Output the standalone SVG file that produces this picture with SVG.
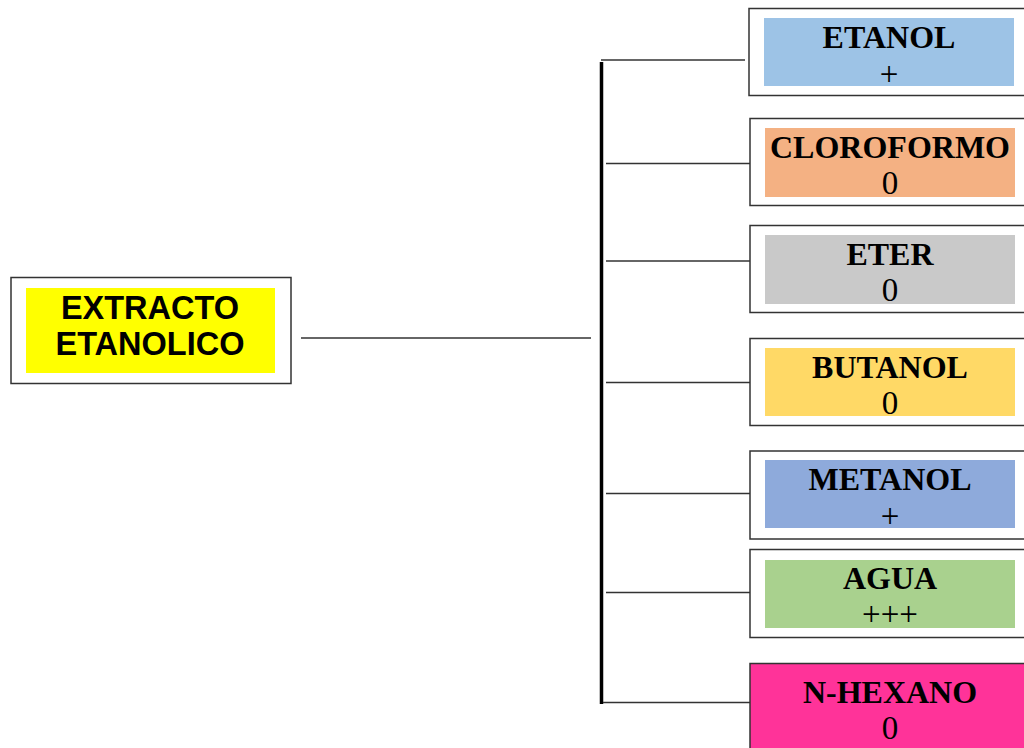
<svg xmlns="http://www.w3.org/2000/svg" width="1024" height="748" viewBox="0 0 1024 748">
<style>
.outer{fill:#fff;stroke:#333;stroke-width:1.5}
.lbl{font-family:"Liberation Serif","Times New Roman",serif;font-weight:bold;font-size:32px;text-anchor:middle;fill:#000}
.val{font-family:"Liberation Serif","Times New Roman",serif;font-size:33px;text-anchor:middle;fill:#000}
.main{font-family:"Liberation Sans",Arial,sans-serif;font-weight:bold;font-size:32.5px;text-anchor:middle;fill:#000}
.conn{stroke:#333;stroke-width:1.5;fill:none}
</style>
<rect width="1024" height="748" fill="#fff"/>
<g id="connectors">
<line class="conn" x1="301" y1="338" x2="591" y2="338"/>
<line x1="601.5" y1="62" x2="601.5" y2="704" stroke="#000" stroke-width="3.5"/>
<line class="conn" x1="601" y1="60" x2="745" y2="60"/>
<line class="conn" x1="606" y1="163.5" x2="750" y2="163.5"/>
<line class="conn" x1="606" y1="261" x2="750" y2="261"/>
<line class="conn" x1="606" y1="382.5" x2="750" y2="382.5"/>
<line class="conn" x1="606" y1="493.5" x2="750" y2="493.5"/>
<line class="conn" x1="606" y1="592.5" x2="750" y2="592.5"/>
<line class="conn" x1="603" y1="702.5" x2="750" y2="702.5"/>
</g>
<g id="extracto">
<rect class="outer" x="11" y="277.5" width="280" height="106"/>
<rect x="26" y="288" width="249" height="85" fill="#ffff00"/>
<text class="main" x="150" y="319">EXTRACTO</text>
<text class="main" x="150" y="355">ETANOLICO</text>
</g>
<g id="etanol">
<rect class="outer" x="749" y="8.5" width="290" height="87"/>
<rect x="764" y="18" width="250" height="68" fill="#9dc3e6"/>
<text class="lbl" x="889" y="48">ETANOL</text>
<text class="val" x="889" y="85">+</text>
</g>
<g id="cloroformo">
<rect class="outer" x="750" y="118.5" width="290" height="87"/>
<rect x="765" y="128" width="250" height="69" fill="#f4b183"/>
<text class="lbl" x="890" y="158">CLOROFORMO</text>
<text class="val" x="890" y="194">0</text>
</g>
<g id="eter">
<rect class="outer" x="750" y="225.5" width="290" height="87"/>
<rect x="765" y="235" width="250" height="69" fill="#c9c9c9"/>
<text class="lbl" x="890" y="265">ETER</text>
<text class="val" x="890" y="301">0</text>
</g>
<g id="butanol">
<rect class="outer" x="750" y="338.5" width="290" height="87"/>
<rect x="765" y="348" width="250" height="68" fill="#ffd966"/>
<text class="lbl" x="890" y="378">BUTANOL</text>
<text class="val" x="890" y="414">0</text>
</g>
<g id="metanol">
<rect class="outer" x="750" y="451" width="290" height="88"/>
<rect x="765" y="460" width="250" height="68" fill="#8eaadb"/>
<text class="lbl" x="890" y="490">METANOL</text>
<text class="val" x="890" y="527">+</text>
</g>
<g id="agua">
<rect class="outer" x="750" y="549.5" width="290" height="88"/>
<rect x="765" y="560" width="250" height="68" fill="#a9d18e"/>
<text class="lbl" x="890" y="589">AGUA</text>
<text class="val" x="890" y="625">+++</text>
</g>
<g id="nhexano">
<rect x="750" y="663.5" width="290" height="100" fill="#ff3399" stroke="#333" stroke-width="1.5"/>
<text class="lbl" x="890" y="703">N-HEXANO</text>
<text class="val" x="890" y="739">0</text>
</g>
</svg>
